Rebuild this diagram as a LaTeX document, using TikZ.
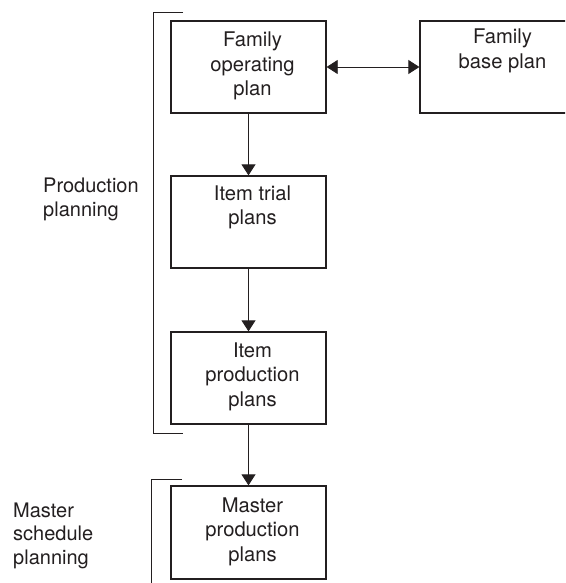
\documentclass[tikz,border=0pt]{standalone}
\usepackage{fontspec}
\setmainfont{TeX Gyre Heros}
\usetikzlibrary{arrows.meta}
\definecolor{ink}{HTML}{231F20}
\tikzset{
  boxnode/.style={draw=ink, line width=1.3pt, minimum width=155pt, minimum height=92pt, inner sep=0pt},
  boxtext/.style={anchor=base, align=center, inner sep=0pt, text=ink, font=\fontsize{20.2}{24.5}\selectfont},
  sidetext/.style={anchor=base west, align=left, inner sep=0pt, text=ink, font=\fontsize{20}{23.5}\selectfont},
  flow/.style={draw=ink, line width=0.8pt, -{Triangle[length=11pt,width=14pt]}},
  bothflow/.style={draw=ink, line width=0.8pt, {Triangle[length=11pt,width=14pt]}-{Triangle[length=11pt,width=14pt]}},
  brace/.style={draw=ink, line width=0.8pt}
}
\begin{document}
\begin{tikzpicture}[x=1pt,y=-1pt]
\clip (0,0) rectangle (565,583);
\fill[white] (0,0) rectangle (565,583);
% boxes
\node[boxnode] (fop) at (248.5,67) {};
\node[boxnode, minimum width=164pt] (fbp) at (502,67) {};
\node[boxnode] (itp) at (248.5,222) {};
\node[boxnode] (ipp) at (248.5,378) {};
\node[boxnode, minimum height=93pt] (mpp) at (248.5,532.5) {};
% texts (anchored at the baseline of the last line)
\node[boxtext] (tfop) at (252.5,96) {Family\\operating\\plan};
\node[boxtext] (tfbp) at (502.5,68.5) {Family\\base plan};
\node[boxtext] (titp) at (252.5,224.5) {Item trial\\plans};
\node[boxtext] (tipp) at (252.5,406) {Item\\production\\plans};
\node[boxtext] (tmpp) at (252.5,561) {Master\\production\\plans};
\node[sidetext] (lpp) at (43,216) {Production\\planning};
\node[sidetext] (lms) at (13,564) {Master\\schedule\\planning};
% brackets
\coordinate (b1a) at (183,12);
\coordinate (b1b) at (153,12);
\coordinate (b1c) at (153,433);
\coordinate (b1d) at (183,433);
\draw[brace] (b1a) -- (b1b) -- (b1c) -- (b1d);
\coordinate (b2a) at (182,479);
\coordinate (b2b) at (151,479);
\coordinate (b2c) at (151,590);
\draw[brace] (b2a) -- (b2b) -- (b2c);
% connectors
\draw[bothflow] (fop.east) -- (fbp.west);
\draw[flow] (fop.south) -- (itp.north);
\draw[flow] (itp.south) -- (ipp.north);
\draw[flow] (ipp.south) -- (mpp.north);
\end{tikzpicture}
\end{document}
